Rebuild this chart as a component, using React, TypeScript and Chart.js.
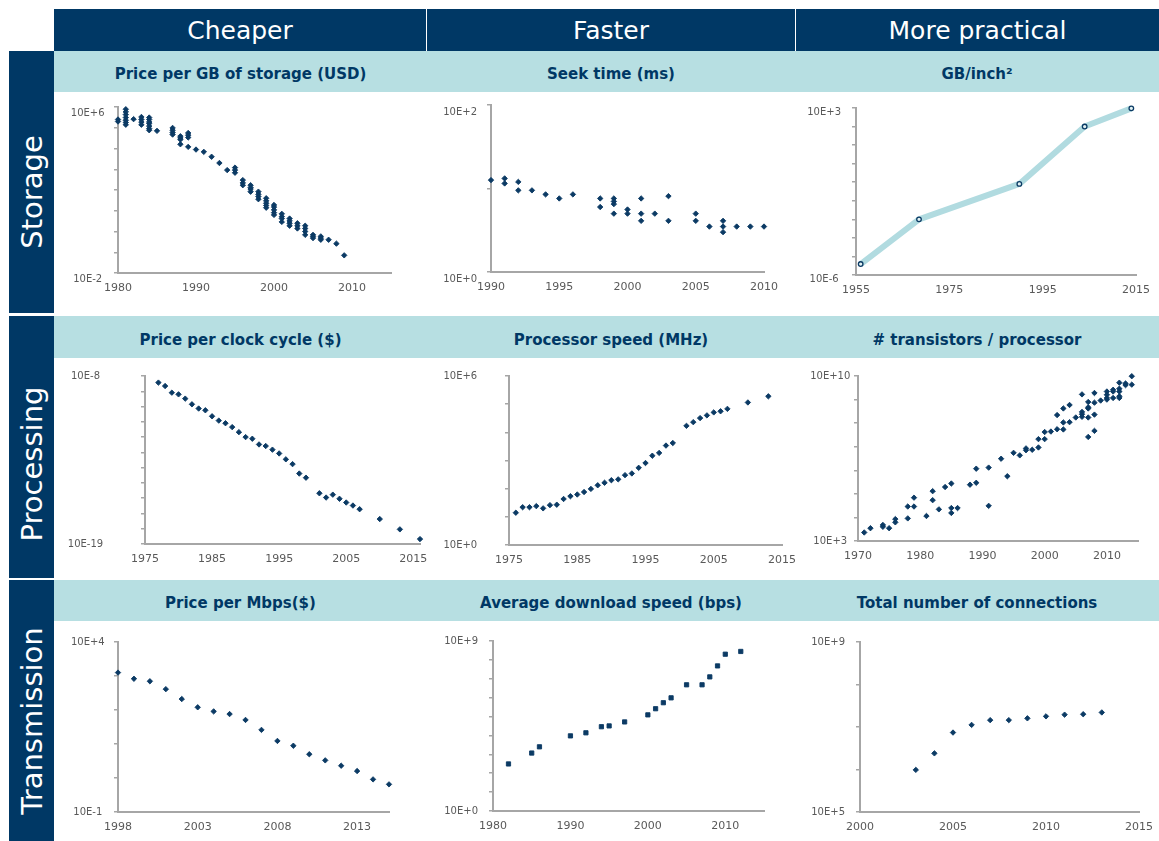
import React, { useEffect, useRef } from 'react';
import { Chart, registerables } from 'chart.js';

Chart.register(...registerables);

// ---------------- data ----------------
const columnTitles = ['Cheaper', 'Faster', 'More practical'];
const rowTitles = ['Storage', 'Processing', 'Transmission'];
const panelTitles = [
  ['Price per GB of storage (USD)', 'Seek time (ms)', 'GB/inch\u00B2'],
  ['Price per clock cycle ($)', 'Processor speed (MHz)', '# transistors / processor'],
  ['Price per Mbps($)', 'Average download speed (bps)', 'Total number of connections'],
];

// Price per GB of storage (USD)
const storagePriceYears = [
  1980, 1980,
  1981, 1981, 1981, 1981, 1981, 1981, 1981,
  1982,
  1983, 1983, 1983, 1983,
  1984, 1984, 1984, 1984, 1984, 1984, 1984,
  1985,
  1987, 1987, 1987, 1987,
  1988, 1988, 1988, 1988,
  1989, 1989, 1989, 1989,
  1990, 1991, 1992, 1993, 1994,
  1995, 1995, 1995,
  1996, 1996, 1996,
  1997, 1997, 1997, 1997,
  1998, 1998, 1998, 1998,
  1999, 1999, 1999, 1999, 1999,
  2000, 2000, 2000, 2000, 2000,
  2001, 2001, 2001, 2001,
  2002, 2002, 2002, 2002,
  2003, 2003, 2003,
  2004, 2004, 2004, 2004,
  2005, 2005, 2005,
  2006, 2006, 2006,
  2007, 2008, 2009,
];
const storagePriceUsd = [
  2.0e5, 2.5e5,
  7.8e5, 5.8e5, 4.3e5, 3.1e5, 2.3e5, 1.8e5, 1.4e5,
  2.6e5,
  3.3e5, 2.5e5, 1.9e5, 1.4e5,
  3.1e5, 2.5e5, 1.9e5, 1.6e5, 1.2e5, 9.1e4, 7.6e4,
  7.1e4,
  9.8e4, 7.6e4, 5.9e4, 4.7e4,
  3.9e4, 3.2e4, 2.7e4, 1.6e4,
  5.6e4, 4.4e4, 3.4e4, 1.2e4,
  8.9e3, 6.9e3, 4.0e3, 2.0e3, 910,
  1200, 910, 680,
  300, 220, 170,
  170, 130, 110, 83,
  83, 62, 48, 36,
  40, 30, 23, 18, 14,
  19, 15, 11, 8.1, 6.3,
  7.1, 5.2, 4.2, 2.9,
  4.2, 3.2, 2.5, 1.9,
  2.5, 1.9, 1.4,
  1.9, 1.4, 1.0, 0.69,
  0.69, 0.58, 0.48,
  0.58, 0.48, 0.4,
  0.4, 0.26, 0.071,
];
const storagePriceXTicks = [1980, 1990, 2000, 2010];
const storagePriceYLabels = ['10E-2', '10E+6'];

// Seek time (ms)
const seekYears = [1990, 1991, 1991, 1992, 1992, 1993, 1994, 1995, 1996, 1998, 1998, 1999, 1999, 1999, 1999, 2000, 2000, 2001, 2001, 2001, 2002, 2003, 2003, 2005, 2005, 2006, 2007, 2007, 2007, 2008, 2009, 2010];
const seekMs = [12.6, 13.2, 11.5, 12.0, 9.5, 9.5, 8.5, 7.6, 8.5, 7.6, 6.0, 7.6, 7.0, 6.5, 5.0, 5.6, 5.0, 7.6, 5.0, 4.1, 5.0, 8.1, 4.1, 5.0, 4.1, 3.5, 4.1, 3.5, 3.0, 3.5, 3.5, 3.5];
const seekXTicks = [1990, 1995, 2000, 2005, 2010];
const seekYLabels = ['10E+0', '10E+2'];

// GB / inch2
const densityYears = [1956, 1968.5, 1990, 2004, 2014];
const densityGb = [3.9e-6, 1.0e-3, 0.081, 100, 955];
const densityXTicks = [1955, 1975, 1995, 2015];
const densityYLabels = ['10E-6', '10E+3'];

// Price per clock cycle ($)
const clockYears = [1977, 1978, 1979, 1980, 1981, 1982, 1983, 1984, 1985, 1986, 1987, 1988, 1989, 1990, 1991, 1992, 1993, 1994, 1995, 1996, 1997, 1998, 1999, 2001, 2002, 2003, 2004, 2005, 2006, 2007, 2010, 2013, 2016];
const clockPrice = [3.7e-9, 2.2e-9, 8.1e-10, 6.3e-10, 3.3e-10, 1.4e-10, 7.4e-11, 5.7e-11, 2.3e-11, 1.2e-11, 8.1e-12, 4.5e-12, 2.1e-12, 1.0e-12, 7.8e-13, 3.3e-13, 2.6e-13, 1.5e-13, 8.5e-14, 3.5e-14, 1.7e-14, 4.1e-15, 2.2e-15, 2.1e-16, 1.1e-16, 1.7e-16, 9.1e-17, 5.2e-17, 3.3e-17, 1.9e-17, 4.3e-18, 9.1e-19, 2.1e-19];
const clockXTicks = [1975, 1985, 1995, 2005, 2015];
const clockYLabels = ['10E-19', '10E-8'];

// Processor speed (MHz)
const mhzYears = [1976, 1977, 1978, 1979, 1980, 1981, 1982, 1983, 1984, 1985, 1986, 1987, 1988, 1989, 1990, 1991, 1992, 1993, 1994, 1995, 1996, 1997, 1998, 1999, 2001, 2002, 2003, 2004, 2005, 2006, 2007, 2010, 2013];
const mhzSpeed = [14, 22, 22, 24, 20, 26, 27, 43, 54, 62, 76, 98, 132, 162, 200, 214, 302, 347, 550, 813, 1480, 1860, 3390, 4170, 1.7e4, 2.3e4, 3.2e4, 4.0e4, 5.1e4, 5.6e4, 6.8e4, 1.15e5, 1.9e5];
const mhzXTicks = [1975, 1985, 1995, 2005, 2015];
const mhzYLabels = ['10E+0', '10E+6'];

// # transistors / processor
const transistorYears = [
  1971, 1972, 1974, 1974, 1975, 1976, 1976, 1978, 1978, 1979, 1979, 1981, 1982, 1982, 1983, 1984,
  1985, 1985, 1985, 1986, 1988, 1989, 1989, 1991, 1991, 1993, 1994, 1995, 1996, 1997, 1997, 1998,
  1999, 1999, 2000, 2000, 2001, 2002, 2002, 2003, 2003, 2003, 2004, 2004, 2005,
  2006, 2006, 2006, 2006, 2007, 2007, 2007, 2007, 2007, 2008, 2008, 2008, 2008, 2009,
  2010, 2010, 2010, 2010, 2011, 2011, 2011, 2012, 2012, 2012, 2012, 2012, 2013, 2013, 2014, 2014,
];
const transistorCount = [
  2300, 3500, 4800, 4000, 3500, 8500, 6200, 2.9e4, 9100, 6.9e4, 2.9e4, 1.15e4, 1.3e5, 5.4e4, 2.2e4, 1.95e5,
  2.75e5, 2.5e4, 1.55e4, 2.5e4, 2.45e5, 1.17e6, 2.95e5, 1.3e6, 3.1e4, 3.1e6, 5.6e5, 5.5e6, 4.3e6, 8.5e6, 7.1e6, 7.4e6,
  2.1e7, 9.3e6, 4.2e7, 2.1e7, 4.4e7, 5.5e7, 2.2e8, 4.2e8, 1.07e8, 5.4e7, 5.9e8, 1.1e8, 1.74e8,
  1.66e9, 3.0e8, 2.4e8, 1.86e8, 7.9e8, 4.7e8, 4.2e8, 1.74e8, 2.6e7, 1.9e9, 7.4e8, 2.3e8, 4.7e7, 9.1e8,
  2.2e9, 1.6e9, 1.17e9, 1.0e9, 2.6e9, 2.2e9, 1.17e9, 5.2e9, 2.9e9, 2.2e9, 1.38e9, 1.17e9, 4.8e9, 4.1e9, 9.8e9, 4.3e9,
];
const transistorXTicks = [1970, 1980, 1990, 2000, 2010];
const transistorYLabels = ['10E+3', '10E+10'];

// Price per Mbps ($)
const mbpsYears = [1998, 1999, 2000, 2001, 2002, 2003, 2004, 2005, 2006, 2007, 2008, 2009, 2010, 2011, 2012, 2013, 2014, 2015];
const mbpsPrice = [1260, 830, 700, 410, 210, 120, 91, 76, 51, 26, 12.3, 8.9, 5.0, 3.3, 2.3, 1.6, 0.91, 0.65];
const mbpsXTicks = [1998, 2003, 2008, 2013];
const mbpsYLabels = ['10E-1', '10E+4'];

// Average download speed (bps)
const bpsYears = [1982, 1985, 1986, 1990, 1992, 1994, 1995, 1997, 2000, 2001, 2002, 2003, 2005, 2007, 2008, 2009, 2010, 2012];
const bpsSpeed = [310, 1170, 2500, 9500, 1.38e4, 2.9e4, 3.2e4, 5.2e4, 1.23e5, 2.6e5, 5.4e5, 9.8e5, 4.8e6, 4.8e6, 1.26e7, 4.8e7, 2.0e8, 2.8e8];
const bpsXTicks = [1980, 1990, 2000, 2010];
const bpsYLabels = ['10E+0', '10E+9'];

// Total number of connections
const connYears = [2003, 2004, 2005, 2006, 2007, 2008, 2009, 2010, 2011, 2012, 2013];
const connCount = [9.8e5, 2.4e6, 7.4e6, 1.12e7, 1.45e7, 1.45e7, 1.6e7, 1.78e7, 1.95e7, 2.0e7, 2.2e7];
const connXTicks = [2000, 2005, 2010, 2015];
const connYLabels = ['10E+5', '10E+9'];

// ---------------- styles ----------------
const NAVY = '#003865';
const LIGHT = '#b7dfe2';
const MARK = '#0b3a64';
const AXIS = '#a6a6a6';
const LABEL = '#595959';
const FONT = '"DejaVu Sans", Verdana, sans-serif';
const EXTRA = 40;

type Kind = 'diamond' | 'square' | 'line';
interface Spec {
  id: string;
  xs: number[];
  ys: number[];
  xMin: number;
  xMax: number;
  xTicks: number[];
  yMin: number;
  yMax: number;
  yLabels: string[];
  box: number[]; // x, y, w, h
  area: number[]; // left, top, right, bottom
  yPad: number;
  yShift: number;
  kind: Kind;
}

const COLS = [[54, 373], [427, 368], [795, 364]];
const ROWS = [[92, 221], [358, 220], [621, 220]];
const box = (c: number, r: number) => [COLS[c][0], ROWS[r][0], COLS[c][1], ROWS[r][1]];

const specs: Spec[] = [
  { id: 'p1', xs: storagePriceYears, ys: storagePriceUsd, xMin: 1980, xMax: 2015, xTicks: storagePriceXTicks, yMin: 1e-2, yMax: 1e6, yLabels: storagePriceYLabels, box: box(0, 0), area: [118, 107, 391, 273], yPad: 9.4, yShift: 6, kind: 'diamond' },
  { id: 'p2', xs: seekYears, ys: seekMs, xMin: 1990, xMax: 2010, xTicks: seekXTicks, yMin: 1, yMax: 100, yLabels: seekYLabels, box: box(1, 0), area: [491, 105, 764, 272], yPad: 10, yShift: 7, kind: 'diamond' },
  { id: 'p3', xs: densityYears, ys: densityGb, xMin: 1955, xMax: 2015, xTicks: densityXTicks, yMin: 1e-6, yMax: 1e3, yLabels: densityYLabels, box: box(2, 0), area: [856, 108, 1136, 275], yPad: 11, yShift: 4, kind: 'line' },
  { id: 'p4', xs: clockYears, ys: clockPrice, xMin: 1975, xMax: 2016, xTicks: clockXTicks, yMin: 1e-19, yMax: 1e-8, yLabels: clockYLabels, box: box(0, 1), area: [145, 376, 420, 544], yPad: 37.8, yShift: 0, kind: 'diamond' },
  { id: 'p5', xs: mhzYears, ys: mhzSpeed, xMin: 1975, xMax: 2015, xTicks: mhzXTicks, yMin: 1, yMax: 1e6, yLabels: mhzYLabels, box: box(1, 1), area: [509, 376, 782, 545], yPad: 27.8, yShift: 0, kind: 'diamond' },
  { id: 'p6', xs: transistorYears, ys: transistorCount, xMin: 1970, xMax: 2015, xTicks: transistorXTicks, yMin: 1e3, yMax: 1e10, yLabels: transistorYLabels, box: box(2, 1), area: [858, 376, 1138, 541], yPad: 3.7, yShift: 0, kind: 'diamond' },
  { id: 'p7', xs: mbpsYears, ys: mbpsPrice, xMin: 1998, xMax: 2015, xTicks: mbpsXTicks, yMin: 0.1, yMax: 1e4, yLabels: mbpsYLabels, box: box(0, 2), area: [118, 642, 389, 812], yPad: 9.3, yShift: 0, kind: 'diamond' },
  { id: 'p8', xs: bpsYears, ys: bpsSpeed, xMin: 1980, xMax: 2015, xTicks: bpsXTicks, yMin: 1, yMax: 1e9, yLabels: bpsYLabels, box: box(1, 2), area: [493, 641, 764, 811], yPad: 11, yShift: 0, kind: 'square' },
  { id: 'p9', xs: connYears, ys: connCount, xMin: 2000, xMax: 2015, xTicks: connXTicks, yMin: 1e5, yMax: 1e9, yLabels: connYLabels, box: box(2, 2), area: [860, 642, 1139, 812], yPad: 11, yShift: 0, kind: 'diamond' },
];

function zeroPad(s: any) {
  s.paddingTop = 0;
  s.paddingBottom = 0;
  s.paddingLeft = 0;
  s.paddingRight = 0;
}

function PanelChart({ spec }: { spec: Spec }) {
  const ref = useRef<HTMLCanvasElement>(null);
  const [bx, by, bw, bh] = spec.box;
  const cw = bw + EXTRA;
  useEffect(() => {
    const [al, at, ar, ab] = spec.area;
    const yW = al - bx;
    const xH = by + bh - ab;
    const isLine = spec.kind === 'line';
    const isSquare = spec.kind === 'square';
    const dataset: any = {
      data: spec.xs.map((x, i) => ({ x, y: spec.ys[i] })),
      clip: 12,
      showLine: isLine,
      borderColor: '#b1dbe0',
      borderWidth: 6,
      borderJoinStyle: 'round',
      pointStyle: isSquare ? 'rect' : isLine ? 'circle' : 'rectRot',
      pointRadius: isSquare ? 3 : isLine ? 2.3 : 2.7,
      pointBackgroundColor: isLine ? '#e2f2f3' : MARK,
      pointBorderColor: MARK,
      pointBorderWidth: isLine ? 1.3 : 0.9,
    };
    const chart = new Chart(ref.current as HTMLCanvasElement, {
      type: 'scatter',
      data: { datasets: [dataset] },
      options: {
        responsive: false,
        animation: false,
        events: [],
        layout: { padding: { left: 0, top: at - by, right: bx + cw - ar, bottom: 0 } },
        plugins: { legend: { display: false }, tooltip: { enabled: false }, title: { display: false } },
        scales: {
          x: {
            type: 'linear',
            min: spec.xMin,
            max: spec.xMax,
            afterBuildTicks: (s: any) => {
              s.ticks = spec.xTicks.map((v) => ({ value: v }));
            },
            afterFit: (s: any) => {
              s.height = xH;
              zeroPad(s);
            },
            grid: { display: true, drawOnChartArea: false, drawTicks: false },
            border: { display: true, color: AXIS, width: 2 },
            ticks: {
              autoSkip: false,
              maxRotation: 0,
              minRotation: 0,
              padding: 9,
              color: LABEL,
              font: { family: FONT, size: 11 },
              callback: (v: any) => String(v),
            },
          },
          y: {
            type: 'logarithmic',
            min: spec.yMin,
            max: spec.yMax,
            afterBuildTicks: (s: any) => {
              const lo = Math.round(Math.log10(spec.yMin));
              const hi = Math.round(Math.log10(spec.yMax));
              const t: any[] = [];
              for (let e = lo; e <= hi; e++) t.push({ value: Math.pow(10, e) });
              s.ticks = t;
            },
            afterFit: (s: any) => {
              s.width = yW;
              zeroPad(s);
            },
            grid: { display: true, drawOnChartArea: false, drawTicks: true, tickLength: 4, color: AXIS, lineWidth: 1.5 },
            border: { display: true, color: AXIS, width: 2 },
            ticks: {
              autoSkip: false,
              crossAlign: 'center',
              padding: spec.yPad,
              labelOffset: spec.yShift,
              color: LABEL,
              font: { family: FONT, size: 10 },
              callback: (_v: any, i: number, arr: any[]) =>
                i === 0 ? spec.yLabels[0] : i === arr.length - 1 ? spec.yLabels[1] : '',
            },
          },
        },
      } as any,
    });
    return () => chart.destroy();
  }, [spec]);
  return (
    <canvas
      ref={ref}
      width={cw}
      height={bh}
      style={{ position: 'absolute', left: bx, top: by, width: cw, height: bh }}
    />
  );
}

const headerCells = [[54, 372], [427, 368], [796, 363]];
const subtitleBars = [[51, 41], [316, 42], [580, 41]];
const rowBlocks = [[51, 262, 192], [316, 262, 464], [580, 261, 721]];

export default function App() {
  return (
    <div
      style={{
        position: 'absolute',
        left: 0,
        top: 0,
        width: 1159,
        height: 841,
        overflow: 'hidden',
        background: '#ffffff',
        fontFamily: FONT,
      }}
    >
      {headerCells.map(([x, w], i) => (
        <div
          key={'h' + i}
          style={{
            position: 'absolute',
            left: x,
            top: 9,
            width: w,
            height: 42,
            background: NAVY,
            color: '#ffffff',
            fontSize: 25,
            lineHeight: '43px',
            textAlign: 'center',
            whiteSpace: 'nowrap',
          }}
        >
          {columnTitles[i]}
        </div>
      ))}
      {subtitleBars.map(([y, h], r) => (
        <div
          key={'s' + r}
          style={{ position: 'absolute', left: 54, top: y, width: 1105, height: h, background: LIGHT }}
        >
          {COLS.map(([x, w], c) => (
            <div
              key={c}
              style={{
                position: 'absolute',
                left: x - 54,
                top: 3,
                width: w,
                height: h - 3,
                lineHeight: h + 'px',
                textAlign: 'center',
                color: NAVY,
                fontWeight: 'bold',
                fontSize: 15,
                whiteSpace: 'nowrap',
              }}
            >
              {panelTitles[r][c]}
            </div>
          ))}
        </div>
      ))}
      {rowBlocks.map(([y, h, cy], r) => (
        <div
          key={'r' + r}
          style={{ position: 'absolute', left: 9, top: y, width: 45, height: h, background: NAVY }}
        >
          <span
            style={{
              position: 'absolute',
              left: 22.5,
              top: cy - y,
              transform: 'translate(-50%, -50%) rotate(-90deg)',
              color: '#ffffff',
              fontSize: 29,
              lineHeight: 1,
              whiteSpace: 'nowrap',
            }}
          >
            {rowTitles[r]}
          </span>
        </div>
      ))}
      {specs.map((s) => (
        <PanelChart key={s.id} spec={s} />
      ))}
    </div>
  );
}
